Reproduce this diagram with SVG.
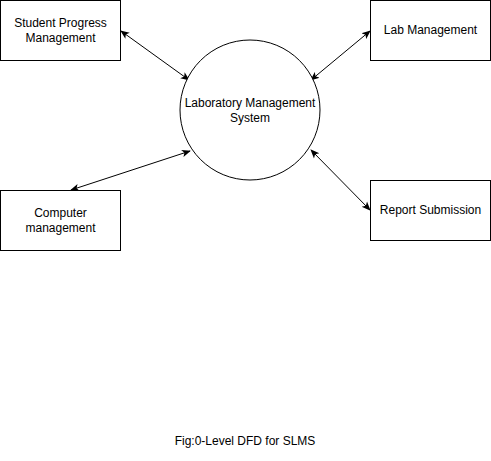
<svg xmlns="http://www.w3.org/2000/svg" width="491" height="461" viewBox="0 0 491 461">
<style>
.box{fill:#fff;stroke:#000;stroke-width:1}
.t{font-family:"Liberation Sans",Arial,sans-serif;font-size:12px;fill:#000;text-anchor:middle}
.c{fill:none;stroke:#000;stroke-width:1}
</style>
<defs>
<marker id="ah" viewBox="0 0 10 10" refX="9" refY="5" markerWidth="9" markerHeight="9" markerUnits="userSpaceOnUse" orient="auto-start-reverse">
<path d="M0,0.8 L10,5 L0,9.2 L2.5,5 Z" fill="#000"/>
</marker>
</defs>
<rect width="491" height="461" fill="#fff"/>
<g id="connectors">
<line class="c" x1="121" y1="31" x2="189" y2="80" marker-start="url(#ah)" marker-end="url(#ah)"/>
<line class="c" x1="370" y1="31" x2="311" y2="80" marker-start="url(#ah)" marker-end="url(#ah)"/>
<line class="c" x1="71" y1="190" x2="190" y2="151" marker-start="url(#ah)" marker-end="url(#ah)"/>
<line class="c" x1="311" y1="150" x2="370" y2="210" marker-start="url(#ah)" marker-end="url(#ah)"/>
</g>
<g id="system">
<circle class="box" cx="250" cy="110" r="70"/>
<text class="t" x="250" y="107">Laboratory Management</text>
<text class="t" x="250" y="121.5">System</text>
</g>
<g id="student">
<rect class="box" x="0.5" y="0.5" width="120" height="60"/>
<text class="t" x="60.5" y="27">Student Progress</text>
<text class="t" x="60.5" y="41.5">Management</text>
</g>
<g id="lab">
<rect class="box" x="370.5" y="0.5" width="120" height="60"/>
<text class="t" x="430.5" y="34">Lab Management</text>
</g>
<g id="computer">
<rect class="box" x="0.5" y="190.5" width="120" height="60"/>
<text class="t" x="60.5" y="217">Computer</text>
<text class="t" x="60.5" y="232">management</text>
</g>
<g id="report">
<rect class="box" x="370.5" y="180.5" width="120" height="60"/>
<text class="t" x="430.5" y="214">Report Submission</text>
</g>
<text class="t" x="245" y="445">Fig:0-Level DFD for SLMS</text>
</svg>
